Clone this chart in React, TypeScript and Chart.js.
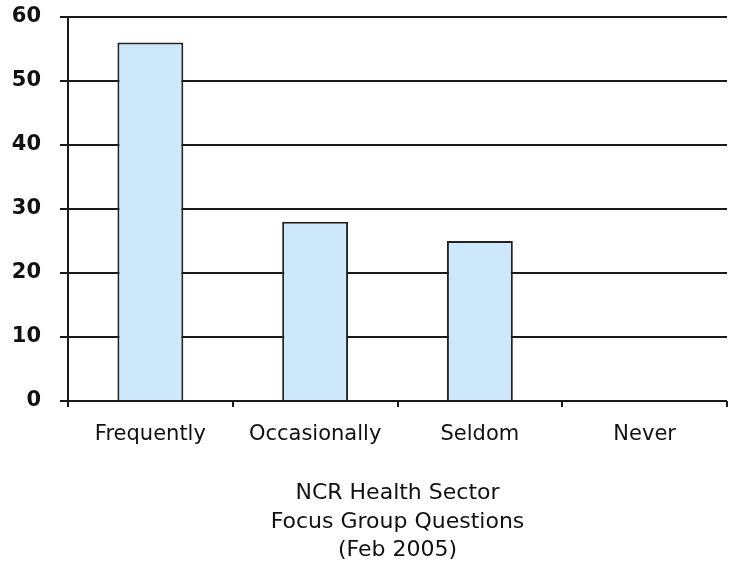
import React, { useEffect, useRef } from "react";
import { Chart, registerables } from "chart.js";

Chart.register(...registerables);

const categories = ["Frequently", "Occasionally", "Seldom", "Never"];
const responses = [56, 28, 25, 0];
const axisTitle = ["NCR Health Sector", "Focus Group Questions", "(Feb 2005)"];
const yMin = 0;
const yMax = 60;
const yStep = 10;

const WIDTH = 729;
const HEIGHT = 565;
const LINE = "#1a1a1a";
const TEXT = "#111111";
const FONT = "'DejaVu Sans', Verdana, sans-serif";

export default function App() {
  const canvasRef = useRef<HTMLCanvasElement | null>(null);

  useEffect(() => {
    const canvas = canvasRef.current;
    if (!canvas) return;

    const whiteBackground = {
      id: "whiteBackground",
      beforeDraw(chart: Chart) {
        const { ctx } = chart;
        ctx.save();
        ctx.fillStyle = "#ffffff";
        ctx.fillRect(0, 0, chart.width, chart.height);
        ctx.restore();
      },
    };

    const chart = new Chart(canvas, {
      type: "bar",
      data: {
        labels: categories,
        datasets: [
          {
            data: responses,
            backgroundColor: "#cce8fa",
            borderColor: "#222222",
            borderWidth: 2,
            categoryPercentage: 1,
            barPercentage: 0.4,
          },
        ],
      },
      options: {
        responsive: false,
        animation: false,
        layout: { padding: { top: 17, right: 2, left: 0, bottom: 0 } },
        plugins: {
          legend: { display: false },
          tooltip: { enabled: false },
        },
        scales: {
          x: {
            afterFit(scale: any) {
              scale.height = 164;
            },
            grid: {
              drawOnChartArea: false,
              drawTicks: true,
              tickLength: 6,
              color: LINE,
              lineWidth: 2,
            },
            border: { display: false },
            ticks: {
              color: TEXT,
              padding: 15,
              font: { family: FONT, size: 21 },
              maxRotation: 0,
            },
            title: {
              display: true,
              text: axisTitle,
              color: TEXT,
              font: { family: FONT, size: 22, lineHeight: 1.3 },
              padding: { top: 0, bottom: 0 },
            },
          },
          y: {
            min: yMin,
            max: yMax,
            afterFit(scale: any) {
              scale.width = 68;
              scale.paddingTop = 0;
              scale.paddingBottom = 0;
            },
            grid: {
              color: LINE,
              lineWidth: 2,
              tickLength: 8,
            },
            border: { display: true, color: LINE, width: 2 },
            ticks: {
              stepSize: yStep,
              color: TEXT,
              padding: 19,
              font: { family: FONT, size: 21, weight: "bold" },
            },
          },
        },
      },
      plugins: [whiteBackground],
    });

    return () => chart.destroy();
  }, []);

  return (
    <div style={{ position: "absolute", left: 0, top: 0, width: WIDTH, height: HEIGHT, background: "#fff" }}>
      <canvas ref={canvasRef} width={WIDTH} height={HEIGHT} style={{ display: "block" }} />
    </div>
  );
}
